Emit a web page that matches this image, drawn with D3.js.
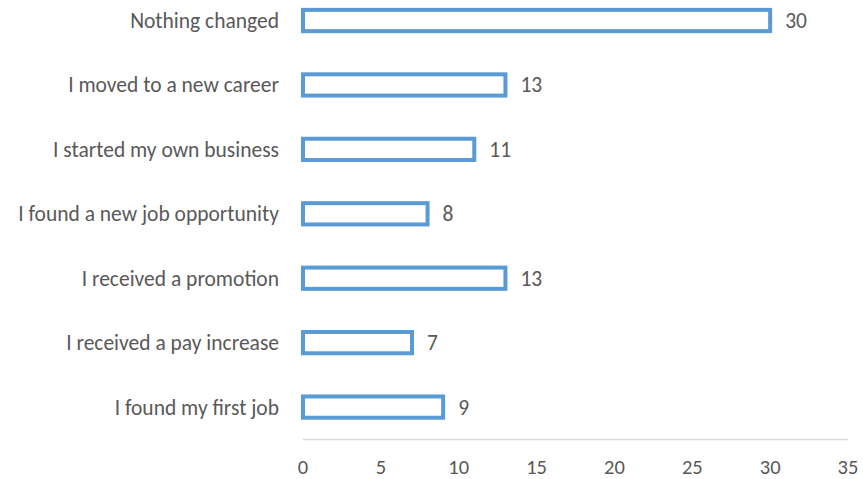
<!DOCTYPE html>
<html>
<head>
<meta charset="utf-8">
<script src="https://cdn.jsdelivr.net/npm/d3@7"></script>
<style>
  body { margin: 0; background: #fff; }
  svg text { font-family: Carlito, "Open Sans", "Liberation Sans", sans-serif; fill: #595959; }
</style>
</head>
<body>
<svg id="chart"></svg>
<script>
const categories = [
  "Nothing changed",
  "I moved to a new career",
  "I started my own business",
  "I found a new job opportunity",
  "I received a promotion",
  "I received a pay increase",
  "I found my first job"
];
const values = [30, 13, 11, 8, 13, 7, 9];
const xTicks = [0, 5, 10, 15, 20, 25, 30, 35];

const width = 863;
const height = 479;
const fontSize = "21.5px";

const svg = d3.select("#chart")
    .attr("width", width)
    .attr("height", height);

const xScale = d3.scaleLinear()
    .domain([0, 35])
    .range([303, 848]);

const yScale = d3.scaleBand()
    .domain(categories)
    .range([-11.7, 439.3])
    .paddingInner(0.67)
    .paddingOuter(0.335);

// axis baseline
svg.append("line")
    .attr("x1", xScale(0))
    .attr("x2", xScale(35))
    .attr("y1", 439.5)
    .attr("y2", 439.5)
    .attr("stroke", "#d9d9d9")
    .attr("stroke-width", 1.5);

// tick labels
svg.selectAll(".tick-label")
    .data(xTicks)
    .enter()
    .append("text")
    .attr("class", "tick-label")
    .attr("x", d => xScale(d))
    .attr("y", 474)
    .attr("text-anchor", "middle")
    .style("font-size", "20.5px")
    .text(d => d);

const data = categories.map((c, i) => ({ name: c, value: values[i] }));

svg.selectAll("rect.bar")
    .data(data)
    .enter()
    .append("rect")
    .attr("class", "bar")
    .attr("x", xScale(0))
    .attr("y", d => yScale(d.name))
    .attr("width", d => xScale(d.value) - xScale(0))
    .attr("height", yScale.bandwidth())
    .attr("fill", "#fff")
    .attr("stroke", "#5b9bd5")
    .attr("stroke-width", 4);

// category labels
svg.selectAll(".cat-label")
    .data(data)
    .enter()
    .append("text")
    .attr("class", "cat-label")
    .attr("x", 279)
    .attr("y", d => yScale(d.name) + yScale.bandwidth() / 2)
    .attr("dy", "0.35em")
    .attr("text-anchor", "end")
    .style("font-size", fontSize)
    .text(d => d.name);

// value labels
svg.selectAll(".val-label")
    .data(data)
    .enter()
    .append("text")
    .attr("class", "val-label")
    .attr("x", d => xScale(d.value) + 15)
    .attr("y", d => yScale(d.name) + yScale.bandwidth() / 2)
    .attr("dy", "0.35em")
    .style("font-size", fontSize)
    .text(d => d.value);
</script>
</body>
</html>
